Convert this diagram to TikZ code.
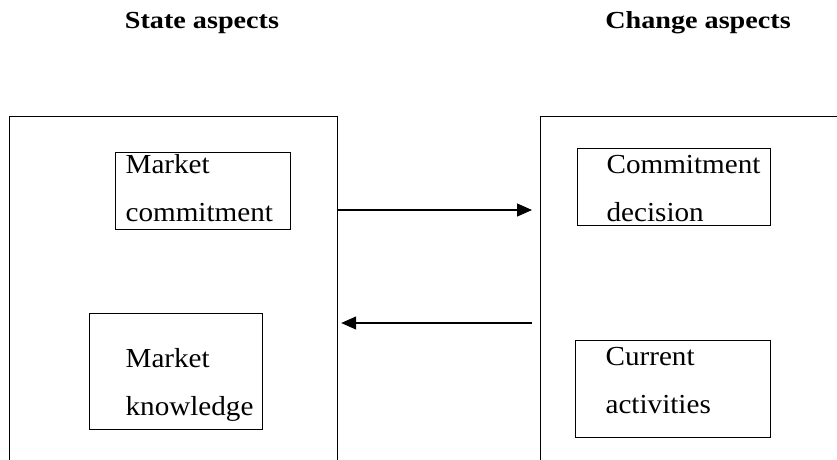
\documentclass[tikz,border=0pt]{standalone}
\usepackage{fontspec}
\setmainfont{Liberation Serif}
\newfontfamily\headfont{Liberation Serif}[FakeStretch=1.15]
\newfontfamily\boxfont{Liberation Serif}[FakeStretch=1.06]
\usetikzlibrary{arrows.meta,calc}
\begin{document}
\begin{tikzpicture}[
x=1pt,y=-1pt,
line width=1.2pt,
head/.style={%
font=\headfont\bfseries\fontsize{24.5}{28}\selectfont,
anchor=base
},
side/.style={draw,anchor=north west,inner sep=0pt,minimum height=400pt},
box/.style={draw,anchor=north west,inner sep=0pt},
txt/.style={%
align=left,
anchor=north west,
inner sep=0pt,
font=\boxfont\fontsize{27.5}{48}\selectfont
},
arr/.style={-{Triangle[length=15pt,width=13pt]}}
]
\useasboundingbox (0,0) rectangle (837,459);
\clip (0,0) rectangle (837,459);
%% Headings
\node[head]at(202,28)(sa){State aspects};
\node[head]at(698,28)(ch){Change aspects};
%% Outer frames
\node[side,minimum width=328pt]at(9,116)(state){};
\node[side,minimum width=360pt]at(540,116)(change){};
%% State side
\node[box,minimum width=175pt,minimum height=77pt]at(115,152)(mcbox){};
\node[txt]at(125,154.2)(mc){Market\\commitment};
\node[box,minimum width=173pt,minimum height=116pt]at(89,313)(mkbox){};
\node[txt]at(125,348.2)(mk){Market\\knowledge};
%% Change side
\node[box,minimum width=193pt,minimum height=77pt]at(577,148)(cdbox){};
\node[txt]at(606,154.2)(cd){Commitment\\decision};
\node[box,minimum width=195pt,minimum height=97pt]at(575,340)(cabox){};
\node[txt]at(605,346.4)(ca){Current\\activities};
%% Links
\draw[arr](state.east |- 0,210)--($(change.west |- 0,210)+(-8,0)$);
\draw[arr]($(change.west |- 0,323)+(-8,0)$)--($(state.east |- 0,323)+(3,0)$);
\end{tikzpicture}
\end{document}
